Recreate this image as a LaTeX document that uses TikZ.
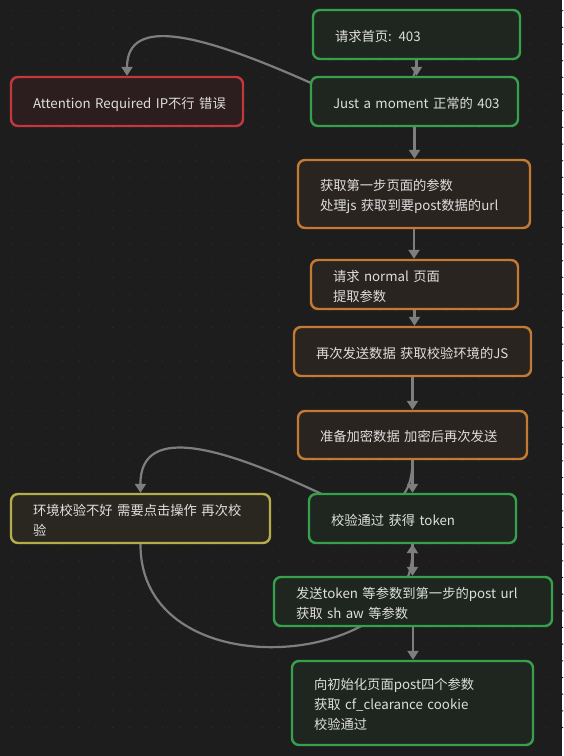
\documentclass[tikz,border=0pt]{standalone}
\usepackage{fontspec}
\setmainfont{Noto Sans CJK SC}
\usetikzlibrary{arrows.meta}
\pgfdeclarelayer{bg}
\pgfdeclarelayer{edges}
\pgfsetlayers{bg,edges,main}
\definecolor{bgc}{HTML}{1D1D1D}
\definecolor{dotc}{HTML}{2C2C2C}
\definecolor{txt}{HTML}{DEDEDE}
\definecolor{edgec}{HTML}{7E7E7E}
\definecolor{grn}{HTML}{36A04C}
\definecolor{grnfill}{HTML}{1F2620}
\definecolor{org}{HTML}{C47A33}
\definecolor{orgfill}{HTML}{2A2420}
\definecolor{redc}{HTML}{C2383D}
\definecolor{redfill}{HTML}{2C1D1E}
\definecolor{yel}{HTML}{B5AD4C}
\definecolor{yelfill}{HTML}{29271F}
\newcommand{\boxstrut}{\rule[-3.5pt]{0pt}{20pt}}
\begin{document}
\begin{tikzpicture}[x=1pt,y=-1pt,
  box/.style={line width=2.4pt, rounded corners=7pt, align=left, inner xsep=22pt, inner ysep=0pt,
    font=\fontsize{13.3}{20}\selectfont, text=txt, anchor=center,
    execute at begin node=\boxstrut, execute at end node=\boxstrut},
  gbox/.style={box, draw=grn, fill=grnfill},
  obox/.style={box, draw=org, fill=orgfill},
  rbox/.style={box, draw=redc, fill=redfill},
  ybox/.style={box, draw=yel, fill=yelfill},
  arr/.style={draw=edgec, line width=2.2pt, -{Triangle[width=11pt,length=9pt]}}
]
\begin{pgfonlayer}{bg}
\fill[bgc] (0,0) rectangle (562,756);
\foreach \i in {0,...,33}{
  \foreach \j in {0,...,43}{
    \fill[dotc] (12.6+\i*16.67, 10.7+\j*16.67) circle (0.75pt);
  }
}
\end{pgfonlayer}
\useasboundingbox (0,0) rectangle (562,756);

\node[gbox, text width=163pt, minimum height=49pt] (start) at (416.5,34.5) {请求首页: 403};
\node[gbox, text width=163pt, minimum height=49pt] (just) at (414.5,101.5) {\mbox{Just a moment 正常的 403}};
\node[rbox, text width=188pt, minimum height=49pt] (attn) at (127,101.5) {\mbox{Attention Required IP不行 错误}};
\node[obox, text width=188pt, minimum height=68pt] (param) at (414,194) {获取第一步页面的参数\\\mbox{处理js 获取到要post数据的url}};
\node[obox, text width=163pt, minimum height=49pt] (normal) at (414.5,284.5) {请求 normal 页面\\提取参数};
\node[obox, text width=193pt, minimum height=49pt] (again) at (412.5,351.5) {\mbox{再次发送数据 获取校验环境的JS}};
\node[obox, text width=185pt, minimum height=48pt] (enc) at (412.5,435) {\mbox{准备加密数据 加密后再次发送}};
\node[gbox, text width=163pt, minimum height=49pt] (pass) at (412.5,518.5) {校验通过 获得 token};
\node[ybox, text width=215pt, minimum height=49pt] (env) at (140.5,518.5) {\mbox{环境校验不好 需要点击操作 再次校}\\验};
\node[gbox, text width=234pt, minimum height=49pt] (send) at (413,601.5) {\mbox{发送token 等参数到第一步的post url}\\获取 sh aw 等参数};
\node[gbox, text width=197pt, minimum height=84pt] (final) at (412.5,703) {向初始化页面post四个参数\\获取 cf\_clearance cookie\\校验通过};

\begin{pgfonlayer}{edges}
\draw[arr] (start.south) -- (start.south |- just.north);
\draw[arr] (just.south) -- (just.south |- param.north);
\draw[arr] (param.south) -- (param.south |- normal.north);
\draw[arr] (normal.south) -- (normal.south |- again.north);
\draw[arr] (again.south) -- (again.south |- enc.north);
\draw[arr] (enc.south) -- (enc.south |- pass.north);
\draw[arr] (pass.south) -- (pass.south |- send.north);
\draw[arr] (send.south) -- (send.south |- final.north);
% request -> attention required
\draw[arr] (start.south) .. controls (415,110) and (360,105) .. (311,83)
  .. controls (201,34) and (127,15) .. (attn.north);
% encrypted -> environment check failed
\draw[arr] (enc.south) .. controls (412.5,505) and (385,520) .. (330,498)
  .. controls (230,450) and (140,420) .. (env.north);
% environment check failed -> passed
\draw[arr] (env.south) .. controls (140,690) and (411,670) .. (pass.south);
\end{pgfonlayer}
\end{tikzpicture}
\end{document}
